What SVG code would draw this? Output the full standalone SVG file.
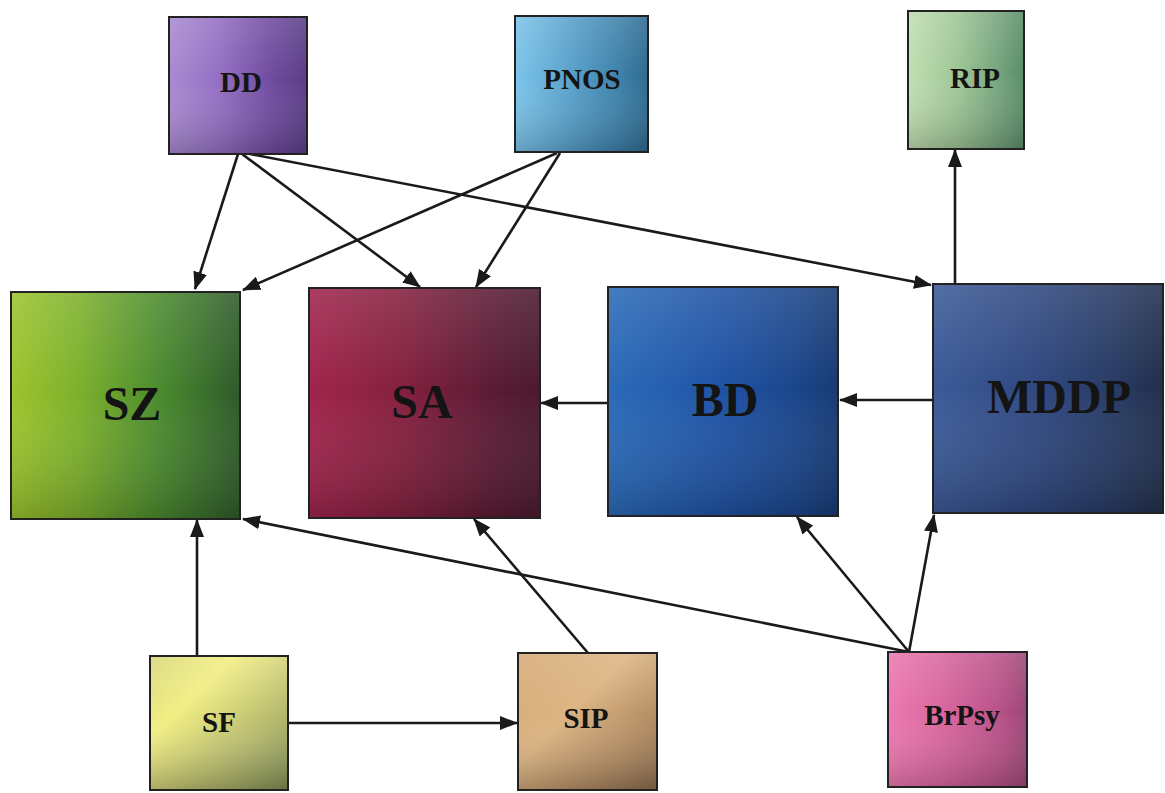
<svg xmlns="http://www.w3.org/2000/svg" width="1165" height="793" viewBox="0 0 1165 793">
<style>
.box{stroke:#222;stroke-width:2}
.shade{stroke:none}
.lbl{font-family:"Liberation Serif","Times New Roman",serif;font-weight:bold;fill:#141414;text-anchor:middle}
.sm{font-size:29px}
.lg{font-size:48px}
.edge{stroke:#1a1a1a;stroke-width:2.6;fill:none;marker-end:url(#ah)}
</style>
<defs>
<marker id="ah" markerUnits="userSpaceOnUse" markerWidth="18" markerHeight="14" refX="17" refY="7" orient="auto">
<path d="M0,0 L18,7 L0,14 z" fill="#1a1a1a"/>
</marker>
<linearGradient id="ov" x1="0" y1="0" x2="0" y2="1">
<stop offset="0" stop-color="#fff" stop-opacity="0.12"/>
<stop offset="0.45" stop-color="#fff" stop-opacity="0"/>
<stop offset="1" stop-color="#000" stop-opacity="0.18"/>
</linearGradient>
<linearGradient id="gDD" x1="0" y1="0" x2="1" y2="0">
<stop offset="0" stop-color="#a98ad0"/><stop offset="0.35" stop-color="#9470c4"/><stop offset="0.75" stop-color="#6f4a9e"/><stop offset="1" stop-color="#5a3d86"/>
</linearGradient>
<linearGradient id="gPNOS" x1="0" y1="0" x2="1" y2="0">
<stop offset="0" stop-color="#7cc4ea"/><stop offset="0.4" stop-color="#5aa2cc"/><stop offset="0.8" stop-color="#3c7fa8"/><stop offset="1" stop-color="#2f6a8f"/>
</linearGradient>
<linearGradient id="gRIP" x1="0" y1="0" x2="1" y2="0">
<stop offset="0" stop-color="#c2dfb2"/><stop offset="0.45" stop-color="#9cc494"/><stop offset="0.8" stop-color="#73a27c"/><stop offset="1" stop-color="#5a8c68"/>
</linearGradient>
<linearGradient id="gSZ" x1="0" y1="0" x2="1" y2="0">
<stop offset="0" stop-color="#9cc42c"/><stop offset="0.3" stop-color="#7cb02c"/><stop offset="0.65" stop-color="#4a8a2e"/><stop offset="1" stop-color="#2e5a2a"/>
</linearGradient>
<linearGradient id="gSA" x1="0" y1="0" x2="1" y2="0">
<stop offset="0" stop-color="#a0244c"/><stop offset="0.4" stop-color="#84203f"/><stop offset="0.8" stop-color="#5a1b34"/><stop offset="1" stop-color="#4a1a2e"/>
</linearGradient>
<linearGradient id="gBD" x1="0" y1="0" x2="1" y2="0">
<stop offset="0" stop-color="#2a6ab8"/><stop offset="0.5" stop-color="#1f52a4"/><stop offset="0.85" stop-color="#1a4488"/><stop offset="1" stop-color="#173a72"/>
</linearGradient>
<linearGradient id="gMDDP" x1="0" y1="0" x2="1" y2="0">
<stop offset="0" stop-color="#3b5a98"/><stop offset="0.45" stop-color="#2f4880"/><stop offset="0.8" stop-color="#273a62"/><stop offset="1" stop-color="#222f4c"/>
</linearGradient>
<linearGradient id="gSF" x1="0" y1="0" x2="1" y2="1">
<stop offset="0" stop-color="#d8d878"/><stop offset="0.3" stop-color="#f2ee84"/><stop offset="0.7" stop-color="#b4b86c"/><stop offset="1" stop-color="#7e8c54"/>
</linearGradient>
<linearGradient id="gSIP" x1="0" y1="0" x2="1" y2="1">
<stop offset="0" stop-color="#d6aa76"/><stop offset="0.4" stop-color="#dcb482"/><stop offset="0.75" stop-color="#b08a62"/><stop offset="1" stop-color="#8a6a4c"/>
</linearGradient>
<linearGradient id="gBR" x1="0" y1="0" x2="1" y2="0">
<stop offset="0" stop-color="#ec78b0"/><stop offset="0.4" stop-color="#d8669e"/><stop offset="0.8" stop-color="#b85288"/><stop offset="1" stop-color="#9c4676"/>
</linearGradient>
</defs>
<rect width="1165" height="793" fill="#ffffff"/>

<g id="connectors">
<line class="edge" x1="238" y1="154" x2="195" y2="289"/>
<line class="edge" x1="242" y1="154" x2="420" y2="287"/>
<line class="edge" x1="250" y1="154" x2="931" y2="285"/>
<line class="edge" x1="557" y1="153" x2="243" y2="290"/>
<line class="edge" x1="560" y1="153" x2="476" y2="287"/>
<line class="edge" x1="955" y1="284" x2="955" y2="150"/>
<line class="edge" x1="933" y1="400" x2="840" y2="400"/>
<line class="edge" x1="608" y1="403" x2="541" y2="403"/>
<line class="edge" x1="197" y1="656" x2="197" y2="520"/>
<line class="edge" x1="288" y1="723" x2="517" y2="723"/>
<line class="edge" x1="588" y1="653" x2="474" y2="519"/>
<line class="edge" x1="909" y1="652" x2="243" y2="519"/>
<line class="edge" x1="909" y1="652" x2="797" y2="517"/>
<line class="edge" x1="909" y1="652" x2="934" y2="515"/>
</g>

<g id="DD">
<rect class="box" x="169" y="17" width="138" height="137" fill="url(#gDD)"/>
<rect class="shade" x="170" y="18" width="136" height="135" fill="url(#ov)"/>
<text class="lbl sm" x="241" y="92">DD</text>
</g>
<g id="PNOS">
<rect class="box" x="515" y="16" width="133" height="136" fill="url(#gPNOS)"/>
<rect class="shade" x="516" y="17" width="131" height="134" fill="url(#ov)"/>
<text class="lbl sm" x="582" y="89">PNOS</text>
</g>
<g id="RIP">
<rect class="box" x="908" y="11" width="116" height="138" fill="url(#gRIP)"/>
<rect class="shade" x="909" y="12" width="114" height="136" fill="url(#ov)"/>
<text class="lbl sm" x="975" y="88">RIP</text>
</g>
<g id="SZ">
<rect class="box" x="11" y="292" width="229" height="227" fill="url(#gSZ)"/>
<rect class="shade" x="12" y="293" width="227" height="225" fill="url(#ov)"/>
<text class="lbl lg" x="132" y="420">SZ</text>
</g>
<g id="SA">
<rect class="box" x="309" y="288" width="231" height="230" fill="url(#gSA)"/>
<rect class="shade" x="310" y="289" width="229" height="228" fill="url(#ov)"/>
<text class="lbl lg" x="422" y="418">SA</text>
</g>
<g id="BD">
<rect class="box" x="608" y="287" width="230" height="229" fill="url(#gBD)"/>
<rect class="shade" x="609" y="288" width="228" height="227" fill="url(#ov)"/>
<text class="lbl lg" x="725" y="416">BD</text>
</g>
<g id="MDDP">
<rect class="box" x="933" y="284" width="230" height="229" fill="url(#gMDDP)"/>
<rect class="shade" x="934" y="285" width="228" height="227" fill="url(#ov)"/>
<text class="lbl lg" x="1059" y="413">MDDP</text>
</g>
<g id="SF">
<rect class="box" x="150" y="656" width="138" height="134" fill="url(#gSF)"/>
<rect class="shade" x="151" y="657" width="136" height="132" fill="url(#ov)"/>
<text class="lbl sm" x="219" y="732">SF</text>
</g>
<g id="SIP">
<rect class="box" x="518" y="653" width="139" height="137" fill="url(#gSIP)"/>
<rect class="shade" x="519" y="654" width="137" height="135" fill="url(#ov)"/>
<text class="lbl sm" x="586" y="728">SIP</text>
</g>
<g id="BrPsy">
<rect class="box" x="888" y="652" width="139" height="135" fill="url(#gBR)"/>
<rect class="shade" x="889" y="653" width="137" height="133" fill="url(#ov)"/>
<text class="lbl sm" x="962" y="725">BrPsy</text>
</g>
</svg>
